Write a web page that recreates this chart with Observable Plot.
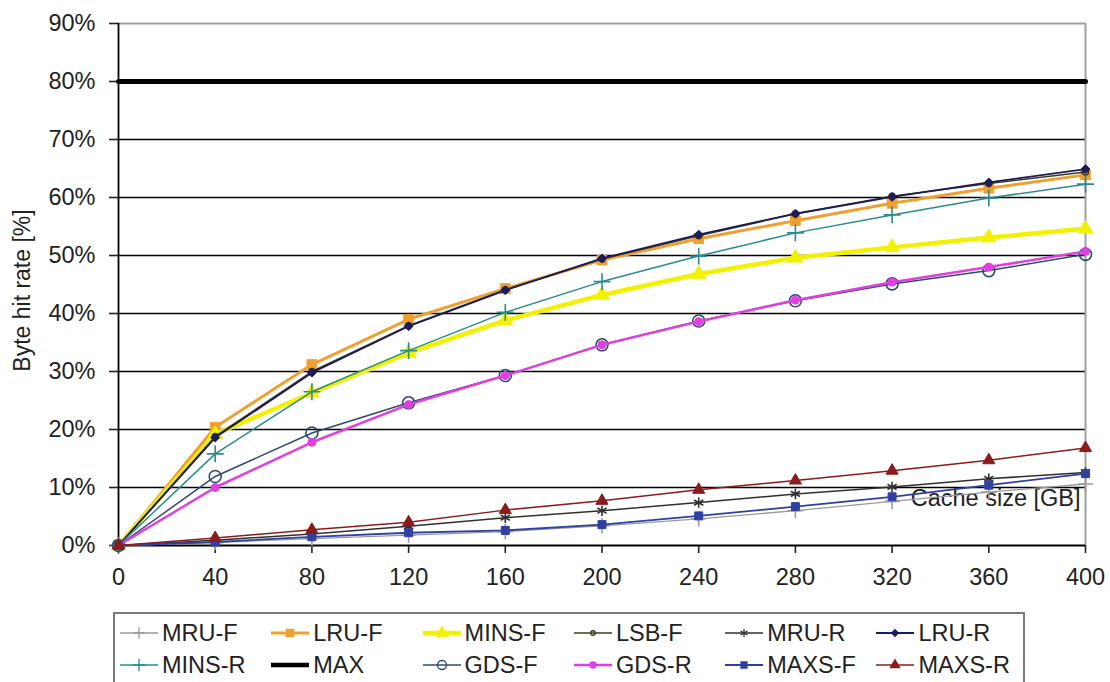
<!DOCTYPE html>
<html><head><meta charset="utf-8">
<script src="https://cdn.jsdelivr.net/npm/d3@7"></script>
<script src="https://cdn.jsdelivr.net/npm/@observablehq/plot@0.6"></script>
<style>
body{margin:0;background:#fff;font-family:"Liberation Sans",Arial,sans-serif;}
#wrap{position:relative;width:1110px;height:682px;overflow:hidden;background:#fff}
#legend{position:absolute;left:113px;top:612px;width:912px;height:90px;border:2px solid #7a7a7a;box-sizing:border-box;padding:3px 0 0 5px;display:grid;grid-template-columns:repeat(6,151.3px);grid-auto-rows:32px;}
.item{display:flex;align-items:center;font-size:23.5px;color:#222;white-space:nowrap}
.item svg{flex:none;margin-right:2px}
</style></head>
<body><div id="wrap"><div id="chart"></div><div id="legend"></div></div>
<script>
// ---- data ----
const cacheSize = [0, 40, 80, 120, 160, 200, 240, 280, 320, 360, 400];
const seriesNames = ["MRU-F","LRU-F","MINS-F","LSB-F","MRU-R","LRU-R","MINS-R","MAX","GDS-F","GDS-R","MAXS-F","MAXS-R"];
const MRU_F  = [0, 0.5, 1.2, 1.8, 2.4, 3.4, 4.6, 6.0, 7.6, 9.2, 10.6];
const LRU_F  = [0, 20.4, 31.2, 39.0, 44.3, 49.2, 52.9, 56.0, 59.0, 61.6, 63.9];
const MINS_F = [0, 19.2, 26.3, 33.2, 38.8, 43.2, 46.8, 49.6, 51.4, 53.1, 54.6];
const LSB_F  = [0, 18.8, 30.0, 37.9, 44.1, 49.4, 53.4, 57.2, 60.2, 62.4, 64.4];
const MRU_R  = [0, 0.9, 2.0, 3.3, 4.8, 6.0, 7.4, 8.9, 10.1, 11.5, 12.6];
const LRU_R  = [0, 18.6, 29.8, 37.8, 44.0, 49.5, 53.6, 57.2, 60.1, 62.6, 64.9];
const MINS_R = [0, 15.8, 26.5, 33.6, 40.2, 45.5, 49.9, 53.9, 57.0, 59.9, 62.3];
const MAX    = [80, 80, 80, 80, 80, 80, 80, 80, 80, 80, 80];
const GDS_F  = [0, 11.9, 19.4, 24.6, 29.3, 34.6, 38.7, 42.2, 45.1, 47.4, 50.2];
const GDS_R  = [0, 10.0, 17.8, 24.3, 29.3, 34.6, 38.6, 42.3, 45.4, 48.0, 50.7];
const MAXS_F = [0, 0.6, 1.5, 2.2, 2.6, 3.6, 5.1, 6.7, 8.4, 10.4, 12.4];
const MAXS_R = [0, 1.3, 2.7, 4.0, 6.1, 7.7, 9.6, 11.2, 12.9, 14.7, 16.8];
const yTicks = [0, 10, 20, 30, 40, 50, 60, 70, 80, 90];
const xTicks = [0, 40, 80, 120, 160, 200, 240, 280, 320, 360, 400];
const yLabel = "Byte hit rate [%]";
const xLabel = "Cache size [GB]";

// ---- styles ----
const seriesValues = [MRU_F, LRU_F, MINS_F, LSB_F, MRU_R, LRU_R, MINS_R, MAX, GDS_F, GDS_R, MAXS_F, MAXS_R];
const style = {
  "MRU-F":  {color:"#9a9a9a", sym:"plus",     filled:false, w:1.3, r:5},
  "LRU-F":  {color:"#f0a030", sym:"square",   filled:true,  w:3,   r:5.5},
  "MINS-F": {color:"#f2f200", sym:"triangle", filled:true,  w:4.5, r:5.5},
  "LSB-F":  {color:"#3c3c1c", sym:"circle",   filled:false, w:1.5, r:3},
  "MRU-R":  {color:"#303030", sym:"asterisk", filled:false, w:1.5, r:5},
  "LRU-R":  {color:"#1c1c5a", sym:"diamond2", filled:true,  w:1.8, r:4},
  "MINS-R": {color:"#2a8c8c", sym:"plus",     filled:false, w:1.5, r:5.5},
  "MAX":    {color:"#000000", sym:null,       filled:false, w:5,   r:0},
  "GDS-F":  {color:"#2e4a6e", sym:"circle",   filled:false, w:1.5, r:6},
  "GDS-R":  {color:"#e040e0", sym:"circle",   filled:true,  w:2.5, r:4},
  "MAXS-F": {color:"#3040a0", sym:"square",   filled:true,  w:1.8, r:4.5},
  "MAXS-R": {color:"#8a1c1c", sym:"triangle", filled:true,  w:1.5, r:4.5}
};

const rows = [];
seriesNames.forEach((name, s) => {
  seriesValues[s].forEach((v, i) => rows.push({series: name, x: cacheSize[i], y: v}));
});

const seriesMarks = [];
seriesNames.forEach(name => {
  const st = style[name];
  const data = rows.filter(d => d.series === name);
  seriesMarks.push(Plot.line(data, {x: "x", y: "y", stroke: st.color, strokeWidth: st.w}));
  if (st.sym) {
    seriesMarks.push(Plot.dot(data, {
      x: "x", y: "y", symbol: () => st.sym, r: st.r,
      fill: st.filled ? st.color : "none",
      stroke: st.color, strokeWidth: st.filled ? 1 : 1.6
    }));
  }
});

const chart = Plot.plot({
  width: 1110, height: 600,
  marginLeft: 118, marginRight: 25, marginTop: 23, marginBottom: 55,
  x: {domain: [0, 400]},
  y: {domain: [0, 90]},
  style: {fontFamily: "'Liberation Sans', Arial, sans-serif", fontSize: "23.5px", color: "#222", background: "white", overflow: "visible"},
  marks: [
    Plot.ruleY(yTicks.filter(t => t > 0 && t < 90), {stroke: "#000", strokeWidth: 1.6}),
    Plot.ruleY([90], {stroke: "#a0a0a0", strokeWidth: 2}),
    Plot.ruleX([400], {stroke: "#a0a0a0", strokeWidth: 2}),
    Plot.axisY({ticks: yTicks, tickFormat: d => d + "%", tickSize: 9, tickPadding: 14, label: null, strokeWidth: 1.6, fontSize: 23.5}),
    Plot.axisX({ticks: xTicks, tickSize: 8, tickPadding: 15, label: null, strokeWidth: 1.6, fontSize: 23.5}),
    Plot.ruleX([0], {stroke: "#000", strokeWidth: 1.8}),
    Plot.ruleY([0], {stroke: "#000", strokeWidth: 1.8}),
    Plot.text([xLabel], {frameAnchor: "bottom-right", text: d => d, dx: -5, dy: -40, textAnchor: "end", fontSize: 23.5, fill: "#222"}),
    ...seriesMarks,
    Plot.text([yLabel], {frameAnchor: "left", text: d => d, dx: -96, dy: 6, rotate: -90, textAnchor: "middle", fontSize: 23, fill: "#222"})
  ]
});
document.getElementById("chart").appendChild(chart);

// ---- legend ----
const symMap = {plus: d3.symbolPlus, square: d3.symbolSquare, triangle: d3.symbolTriangle, circle: d3.symbolCircle, asterisk: d3.symbolAsterisk, diamond2: d3.symbolDiamond2};
const legend = d3.select("#legend");
seriesNames.forEach(name => {
  const st = style[name];
  const it = legend.append("div").attr("class", "item");
  const svg = it.append("svg").attr("width", 40).attr("height", 20);
  svg.append("line").attr("x1", 0).attr("x2", 38).attr("y1", 10).attr("y2", 10)
    .attr("stroke", st.color).attr("stroke-width", Math.min(st.w, 4.5));
  if (st.sym) {
    const size = Math.PI * Math.pow(st.r * 0.75, 2);
    svg.append("path").attr("d", d3.symbol(symMap[st.sym], size)()).attr("transform", "translate(19,10)")
      .attr("fill", st.filled ? st.color : "none").attr("stroke", st.color).attr("stroke-width", 1.3);
  }
  it.append("span").text(name);
});
</script>
</body></html>
